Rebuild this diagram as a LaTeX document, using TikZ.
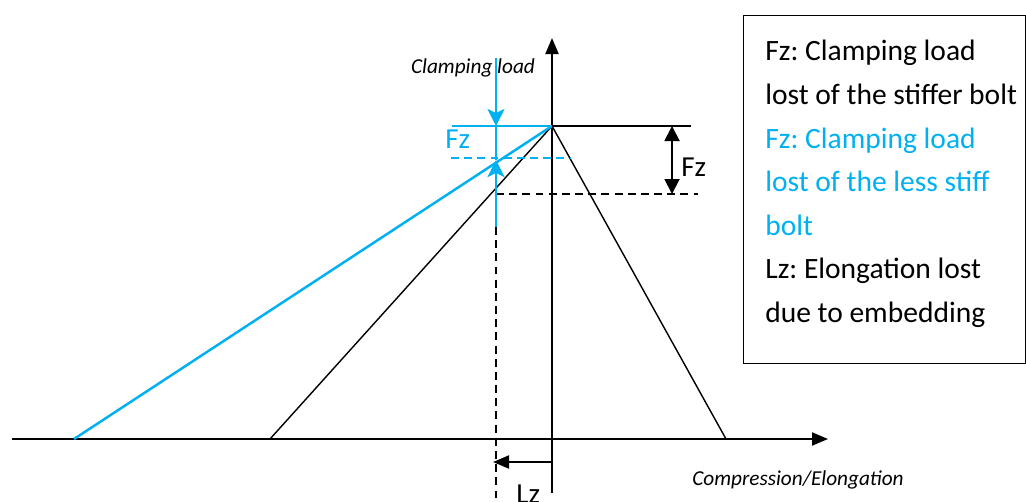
\documentclass[tikz,border=0pt]{standalone}
\usepackage{fontspec}
\setmainfont{Carlito}
\usetikzlibrary{positioning,arrows.meta}
\definecolor{LoadBlue}{RGB}{0,176,240}
\frenchspacing

\begin{document}
\begin{tikzpicture}[
      x=0.02cm, y=-0.02cm,
      axis/.style={line width=1.1pt, -{Triangle[length=3.2mm, width=2.6mm]}},
      stiffline/.style={line width=0.8pt},
      softline/.style={line width=1.4pt, draw=LoadBlue},
      guide/.style={line width=0.8pt, dash pattern=on 4.5pt off 3pt},
      softguide/.style={guide, draw=LoadBlue},
      loadarrow/.style={line width=1.4pt, draw=LoadBlue, -{Stealth[length=3.4mm, width=3.4mm, inset=0.8mm]}},
      dimarrow/.style={line width=1.1pt, {Triangle[length=3mm, width=3mm]}-{Triangle[length=3mm, width=3mm]}},
      lzarrow/.style={line width=1.1pt, -{Triangle[length=3.2mm, width=2.6mm]}},
      caption/.style={font=\fontsize{12.1}{14}\selectfont\itshape, inner sep=0pt},
      label/.style={font=\fontsize{16.5}{18}\selectfont, inner sep=0pt}
    ]
    \useasboundingbox (0,0) rectangle (1026,501);

    % axes
    \coordinate (xstart) at (12,439);
    \coordinate (xend) at (828,439);
    \coordinate (ybot) at (552,493);
    \coordinate (ytop) at (552,38);
    \draw[axis] (xstart) -- (xend);
    \draw[axis] (ybot) -- (ytop);

    % load lines
    \coordinate (peak) at (552,126);
    \coordinate (stiffbase) at (270,439);
    \coordinate (softbase) at (74,439);
    \coordinate (rightbase) at (726,439);
    \draw[stiffline] (stiffbase) -- (peak) -- (rightbase);
    \draw[softline] (softbase) -- (peak);

    % levels
    \coordinate (topend) at (691,126);
    \coordinate (softtop) at (452,126);
    \coordinate (softlow) at (451,158);
    \coordinate (softlowend) at (570,158);
    \coordinate (stifflow) at (496,194);
    \coordinate (stifflowend) at (698,194);
    \draw[stiffline] (peak) -- (topend);
    \draw[softline] (softtop) -- (peak);
    \draw[softguide] (softlow) -- (softlowend);
    \draw[guide] (stifflow) -- (stifflowend);

    % clamping load arrows
    \coordinate (loadtop) at (496,58);
    \coordinate (loadhit) at (496,126);
    \coordinate (loadlow) at (496,160);
    \coordinate (loadfoot) at (496,227);
    \coordinate (guidefoot) at (496,505);
    \draw[loadarrow] (loadtop) -- (loadhit);
    \draw[LoadBlue, line width=0.6pt] (loadhit) -- (loadlow);
    \draw[loadarrow] (loadfoot) -- (loadlow);
    \draw[guide] (loadfoot) -- (guidefoot);

    % Fz of the stiffer bolt
    \coordinate (fztop) at (672,126);
    \coordinate (fzbot) at (672,194);
    \draw[dimarrow] (fztop) -- (fzbot);

    % Lz
    \coordinate (lzstart) at (551,462);
    \coordinate (lzend) at (493,462);
    \draw[lzarrow] (lzstart) -- (lzend);

    % texts
    \node[caption] (clamp) at (473,68) {Clamping load};
    \node[caption] (compr) at (798,480) {Compression/Elongation};
    \node[label, text=LoadBlue, anchor=base west] (fzsoft) at (445,148) {Fz};
    \node[label, anchor=base west] (fzstiff) at (681,176) {Fz};
    \node[label, anchor=base west] (lz) at (516,503) {Lz};

    % legend
    \node[draw, line width=0.6pt, minimum width=5.64cm, minimum height=6.96cm,
          anchor=north west, inner sep=0pt] (legend) at (743,15) {};
    \node[font=\fontsize{16.8}{24.8}\selectfont, align=left, anchor=north west, inner sep=0pt]
          (legendtxt) at (765,40) {Fz: Clamping load\\lost of the stiffer bolt\\
          \textcolor{LoadBlue}{Fz: Clamping load}\\\textcolor{LoadBlue}{lost of the less stiff}\\
          \textcolor{LoadBlue}{bolt}\\Lz: Elongation lost\\due to embedding};
  \end{tikzpicture}
\end{document}
